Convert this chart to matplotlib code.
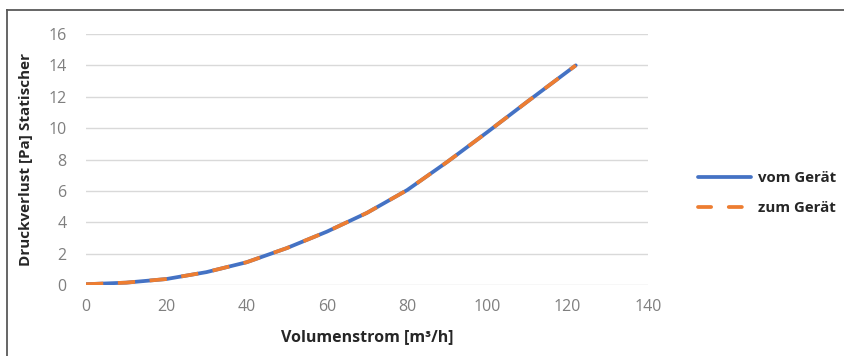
import matplotlib
matplotlib.use("Agg")
import matplotlib.pyplot as plt
from matplotlib.lines import Line2D

volumenstrom = [0, 10, 20, 30, 40, 50, 60, 70, 80, 90, 100, 110, 122]
vom_geraet = [0.05, 0.15, 0.38, 0.82, 1.45, 2.35, 3.4, 4.6, 6.05, 7.85, 9.75, 11.7, 14.0]
zum_geraet = [0.05, 0.15, 0.38, 0.82, 1.45, 2.35, 3.4, 4.6, 6.05, 7.85, 9.75, 11.7, 14.0]
x_ticks = [0, 20, 40, 60, 80, 100, 120, 140]
y_ticks = [0, 2, 4, 6, 8, 10, 12, 14, 16]
series_names = ["vom Gerät", "zum Gerät"]
x_title = "Volumenstrom [m³/h]"
y_title = "Druckverlust [Pa] Statischer"

W, H = 845, 356
fig = plt.figure(figsize=(W / 100, H / 100), dpi=100)
ax = fig.add_axes([86 / W, 1 - 285 / H, (648 - 86) / W, (285 - 34) / H])

blue = "#4472C4"
orange = "#ED7D31"
lw = 2.7

ax.plot(volumenstrom, vom_geraet, color=blue, lw=lw, solid_capstyle="round",
        solid_joinstyle="round", zorder=3)
ax.plot(volumenstrom, zum_geraet, color=orange, lw=lw, dashes=(4.6, 3.9),
        dash_capstyle="butt", dash_joinstyle="round", zorder=4)

ax.set_xlim(0, 140)
ax.set_ylim(0, 16)
ax.set_xticks(x_ticks)
ax.set_yticks(y_ticks)
ax.grid(axis="y", color="#D9D9D9", lw=1.0, zorder=0)
ax.set_axisbelow(True)
for s in ax.spines.values():
    s.set_visible(False)
ax.tick_params(length=0, labelsize=11.5, labelcolor="#7F7F7F")
for lab in ax.get_xticklabels() + ax.get_yticklabels():
    lab.set_fontfamily("Open Sans")
ax.tick_params(axis="y", pad=14)
ax.tick_params(axis="x", pad=10)

ax.set_xlabel(x_title, fontsize=11.5, fontweight="bold", color="#262626",
              family="Open Sans", labelpad=10)
ax.set_ylabel(y_title, fontsize=11, fontweight="bold", color="#262626",
              family="Open Sans", labelpad=11)

handles = [
    Line2D([], [], color=blue, lw=lw, solid_capstyle="round"),
    Line2D([], [], color=orange, lw=lw, dashes=(3.5, 4.7), dash_capstyle="round"),
]
leg = fig.legend(handles, series_names, loc="center left",
                 bbox_to_anchor=(685 / W, 1 - 193 / H), frameon=False,
                 handlelength=3.5, handletextpad=0.45, labelspacing=1.05,
                 prop={"family": "Open Sans", "weight": "bold", "size": 10.8})
for t in leg.get_texts():
    t.set_color("#262626")

# chart border (left and top visible)
fig.add_artist(Line2D([7.5 / W, 7.5 / W], [0, 1 - 9.5 / H], transform=fig.transFigure,
                      color="#595959", lw=1.3))
fig.add_artist(Line2D([7.5 / W, 1], [1 - 9.5 / H, 1 - 9.5 / H], transform=fig.transFigure,
                      color="#595959", lw=1.3))

fig.savefig("out.png", dpi=100)
